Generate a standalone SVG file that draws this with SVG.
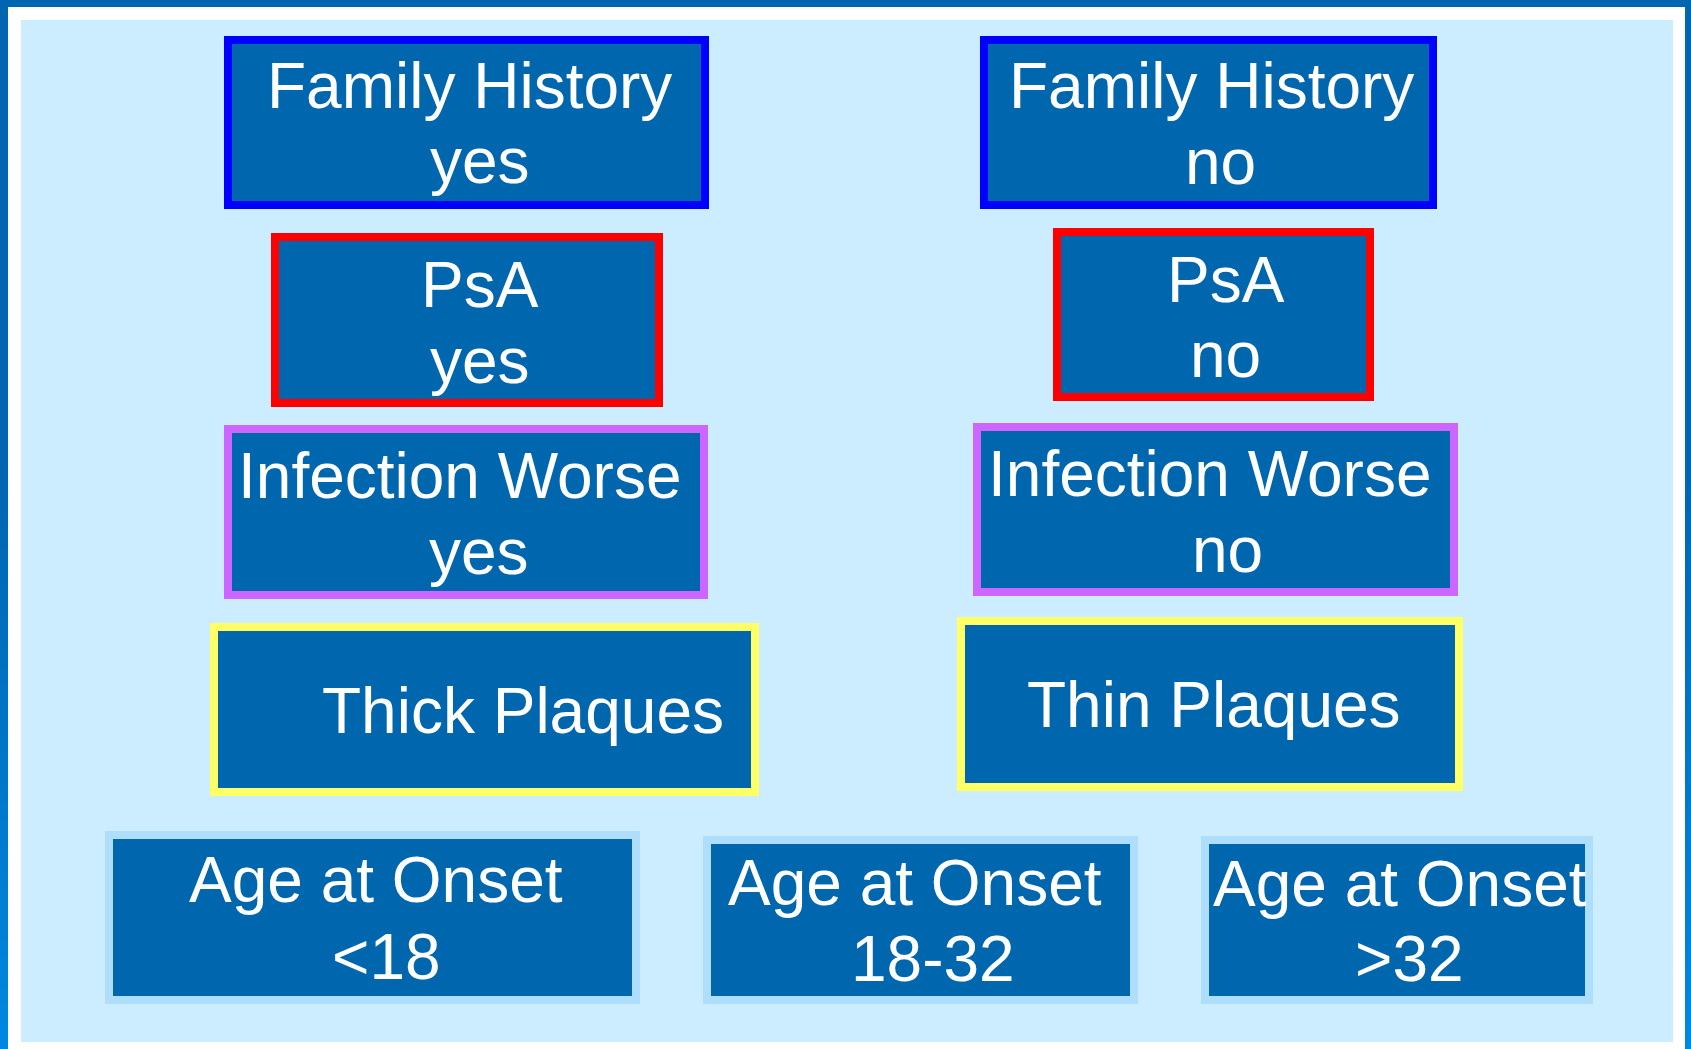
<svg xmlns="http://www.w3.org/2000/svg" width="1691" height="1049" viewBox="0 0 1691 1049">
<style>
.box{fill:#0066AE;stroke-width:8}
.fh{stroke:#0000FF}
.psa{stroke:#FF0000}
.inf{stroke:#CC66FF}
.pl{stroke:#FFFF66}
.age{stroke:#AEDEFC}
text{font-family:"Liberation Sans",Arial,sans-serif;font-size:64px;fill:#FFFFFF}
</style>
<defs>
<linearGradient id="frame" x1="0" y1="0" x2="0" y2="1">
<stop offset="0" stop-color="#0066B0"/>
<stop offset="0.45" stop-color="#0066B0"/>
<stop offset="1" stop-color="#0088E0"/>
</linearGradient>
</defs>
<rect x="0" y="0" width="1691" height="1049" fill="url(#frame)"/>
<rect x="8" y="7" width="1677" height="1042" fill="#FFFFFF"/>
<rect x="21" y="20" width="1652" height="1022" fill="#CCECFF"/>
<g id="connectors"></g>
<g id="fh-yes"><rect class="box fh" x="228" y="40" width="477" height="165"/><text x="267" y="108">Family History</text><text x="430" y="183">yes</text></g>
<g id="fh-no"><rect class="box fh" x="984" y="40" width="449" height="165"/><text x="1009" y="108">Family History</text><text x="1185" y="184">no</text></g>
<g id="psa-yes"><rect class="box psa" x="275" y="237" width="384" height="166"/><text x="421" y="307">PsA</text><text x="430" y="383">yes</text></g>
<g id="psa-no"><rect class="box psa" x="1057" y="232" width="313" height="165"/><text x="1167" y="302">PsA</text><text x="1190" y="377">no</text></g>
<g id="inf-yes"><rect class="box inf" x="228" y="429" width="476" height="166"/><text x="238" y="498">Infection Worse</text><text x="429" y="574">yes</text></g>
<g id="inf-no"><rect class="box inf" x="977" y="427" width="477" height="165"/><text x="988" y="496">Infection Worse</text><text x="1192" y="572">no</text></g>
<g id="thick"><rect class="box pl" x="214" y="627" width="541" height="165"/><text x="322" y="733">Thick Plaques</text></g>
<g id="thin"><rect class="box pl" x="961" y="621" width="498" height="166"/><text x="1027" y="727">Thin Plaques</text></g>
<g id="age-lt18"><rect class="box age" x="109" y="835" width="527" height="165"/><text x="189" y="902">Age at Onset</text><text x="332" y="979">&lt;18</text></g>
<g id="age-18-32"><rect class="box age" x="707" y="840" width="427" height="160"/><text x="728" y="905">Age at Onset</text><text x="851" y="981">18-32</text></g>
<g id="age-gt32"><rect class="box age" x="1205" y="840" width="384" height="160"/><text x="1213" y="906">Age at Onset</text><text x="1355" y="981">&gt;32</text></g>
</svg>
